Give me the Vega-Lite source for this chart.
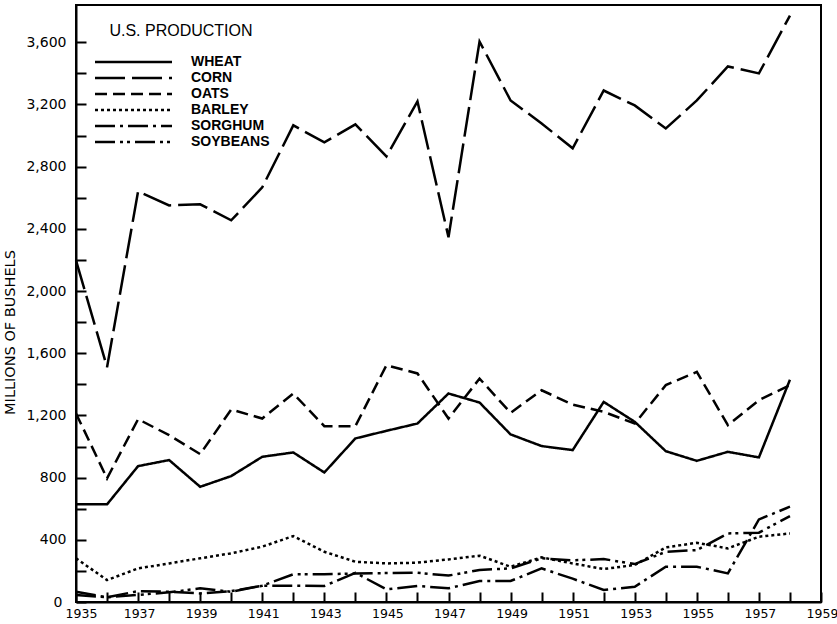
{
  "$schema": "https://vega.github.io/schema/vega-lite/v6.json",
  "width": 745,
  "height": 597,
  "autosize": "none",
  "padding": {"left": 76, "top": 5, "right": 16, "bottom": 22},
  "background": "white",
  "config": {
    "view": {"stroke": "black", "strokeWidth": 2},
    "axis": {
      "domainColor": "black", "domainWidth": 2, "tickColor": "black", "tickWidth": 2,
      "grid": false, "labelColor": "black", "titleColor": "black",
      "labelFont": "DejaVu Sans", "labelFontWeight": "normal", "labelFontSize": 14,
      "titleFont": "DejaVu Sans", "titleFontWeight": "normal", "titleFontSize": 14.5
    },
    "legend": {
      "orient": "none", "legendX": 17, "legendY": 18, "padding": 0,
      "titleFont": "Liberation Sans", "titleFontSize": 16, "titleFontWeight": "normal", "titleColor": "black",
      "titleAnchor": "middle", "titlePadding": 16,
      "labelFont": "Liberation Sans", "labelFontSize": 14, "labelFontWeight": "bold", "labelColor": "black",
      "symbolType": "M-1,0H14.4", "symbolSize": 100, "symbolStrokeWidth": 2.5, "symbolStrokeColor": "black",
      "symbolFillColor": "transparent", "labelOffset": 84, "rowPadding": 2
    }
  },
  "data": {
    "values": [
      {"year":1935,"crop":"WHEAT","value":628},{"year":1936,"crop":"WHEAT","value":628},{"year":1937,"crop":"WHEAT","value":874},{"year":1938,"crop":"WHEAT","value":913},{"year":1939,"crop":"WHEAT","value":741},{"year":1940,"crop":"WHEAT","value":810},{"year":1941,"crop":"WHEAT","value":934},{"year":1942,"crop":"WHEAT","value":962},{"year":1943,"crop":"WHEAT","value":833},{"year":1944,"crop":"WHEAT","value":1052},{"year":1945,"crop":"WHEAT","value":1101},{"year":1946,"crop":"WHEAT","value":1148},{"year":1947,"crop":"WHEAT","value":1341},{"year":1948,"crop":"WHEAT","value":1283},{"year":1949,"crop":"WHEAT","value":1078},{"year":1950,"crop":"WHEAT","value":1003},{"year":1951,"crop":"WHEAT","value":977},{"year":1952,"crop":"WHEAT","value":1287},{"year":1953,"crop":"WHEAT","value":1159},{"year":1954,"crop":"WHEAT","value":970},{"year":1955,"crop":"WHEAT","value":908},{"year":1956,"crop":"WHEAT","value":966},{"year":1957,"crop":"WHEAT","value":930},{"year":1958,"crop":"WHEAT","value":1430},
      {"year":1935,"crop":"CORN","value":2198},{"year":1936,"crop":"CORN","value":1510},{"year":1937,"crop":"CORN","value":2641},{"year":1938,"crop":"CORN","value":2551},{"year":1939,"crop":"CORN","value":2558},{"year":1940,"crop":"CORN","value":2455},{"year":1941,"crop":"CORN","value":2667},{"year":1942,"crop":"CORN","value":3066},{"year":1943,"crop":"CORN","value":2956},{"year":1944,"crop":"CORN","value":3072},{"year":1945,"crop":"CORN","value":2866},{"year":1946,"crop":"CORN","value":3220},{"year":1947,"crop":"CORN","value":2346},{"year":1948,"crop":"CORN","value":3605},{"year":1949,"crop":"CORN","value":3226},{"year":1950,"crop":"CORN","value":3078},{"year":1951,"crop":"CORN","value":2918},{"year":1952,"crop":"CORN","value":3290},{"year":1953,"crop":"CORN","value":3194},{"year":1954,"crop":"CORN","value":3046},{"year":1955,"crop":"CORN","value":3226},{"year":1956,"crop":"CORN","value":3445},{"year":1957,"crop":"CORN","value":3400},{"year":1958,"crop":"CORN","value":3772},
      {"year":1935,"crop":"OATS","value":1213},{"year":1936,"crop":"OATS","value":795},{"year":1937,"crop":"OATS","value":1176},{"year":1938,"crop":"OATS","value":1073},{"year":1939,"crop":"OATS","value":951},{"year":1940,"crop":"OATS","value":1238},{"year":1941,"crop":"OATS","value":1180},{"year":1942,"crop":"OATS","value":1341},{"year":1943,"crop":"OATS","value":1131},{"year":1944,"crop":"OATS","value":1131},{"year":1945,"crop":"OATS","value":1523},{"year":1946,"crop":"OATS","value":1470},{"year":1947,"crop":"OATS","value":1180},{"year":1948,"crop":"OATS","value":1437},{"year":1949,"crop":"OATS","value":1217},{"year":1950,"crop":"OATS","value":1362},{"year":1951,"crop":"OATS","value":1270},{"year":1952,"crop":"OATS","value":1223},{"year":1953,"crop":"OATS","value":1148},{"year":1954,"crop":"OATS","value":1395},{"year":1955,"crop":"OATS","value":1480},{"year":1956,"crop":"OATS","value":1137},{"year":1957,"crop":"OATS","value":1298},{"year":1958,"crop":"OATS","value":1395},
      {"year":1935,"crop":"BARLEY","value":281},{"year":1936,"crop":"BARLEY","value":141},{"year":1937,"crop":"BARLEY","value":216},{"year":1938,"crop":"BARLEY","value":248},{"year":1939,"crop":"BARLEY","value":281},{"year":1940,"crop":"BARLEY","value":313},{"year":1941,"crop":"BARLEY","value":356},{"year":1942,"crop":"BARLEY","value":424},{"year":1943,"crop":"BARLEY","value":323},{"year":1944,"crop":"BARLEY","value":259},{"year":1945,"crop":"BARLEY","value":248},{"year":1946,"crop":"BARLEY","value":253},{"year":1947,"crop":"BARLEY","value":274},{"year":1948,"crop":"BARLEY","value":298},{"year":1949,"crop":"BARLEY","value":227},{"year":1950,"crop":"BARLEY","value":287},{"year":1951,"crop":"BARLEY","value":248},{"year":1952,"crop":"BARLEY","value":212},{"year":1953,"crop":"BARLEY","value":238},{"year":1954,"crop":"BARLEY","value":351},{"year":1955,"crop":"BARLEY","value":381},{"year":1956,"crop":"BARLEY","value":345},{"year":1957,"crop":"BARLEY","value":420},{"year":1958,"crop":"BARLEY","value":441},
      {"year":1935,"crop":"SORGHUM","value":66},{"year":1936,"crop":"SORGHUM","value":30},{"year":1937,"crop":"SORGHUM","value":70},{"year":1938,"crop":"SORGHUM","value":66},{"year":1939,"crop":"SORGHUM","value":55},{"year":1940,"crop":"SORGHUM","value":70},{"year":1941,"crop":"SORGHUM","value":105},{"year":1942,"crop":"SORGHUM","value":105},{"year":1943,"crop":"SORGHUM","value":103},{"year":1944,"crop":"SORGHUM","value":188},{"year":1945,"crop":"SORGHUM","value":81},{"year":1946,"crop":"SORGHUM","value":103},{"year":1947,"crop":"SORGHUM","value":88},{"year":1948,"crop":"SORGHUM","value":135},{"year":1949,"crop":"SORGHUM","value":135},{"year":1950,"crop":"SORGHUM","value":216},{"year":1951,"crop":"SORGHUM","value":150},{"year":1952,"crop":"SORGHUM","value":77},{"year":1953,"crop":"SORGHUM","value":98},{"year":1954,"crop":"SORGHUM","value":227},{"year":1955,"crop":"SORGHUM","value":227},{"year":1956,"crop":"SORGHUM","value":184},{"year":1957,"crop":"SORGHUM","value":531},{"year":1958,"crop":"SORGHUM","value":613},
      {"year":1935,"crop":"SOYBEANS","value":45},{"year":1936,"crop":"SOYBEANS","value":30},{"year":1937,"crop":"SOYBEANS","value":46},{"year":1938,"crop":"SOYBEANS","value":62},{"year":1939,"crop":"SOYBEANS","value":88},{"year":1940,"crop":"SOYBEANS","value":66},{"year":1941,"crop":"SOYBEANS","value":105},{"year":1942,"crop":"SOYBEANS","value":178},{"year":1943,"crop":"SOYBEANS","value":178},{"year":1944,"crop":"SOYBEANS","value":184},{"year":1945,"crop":"SOYBEANS","value":186},{"year":1946,"crop":"SOYBEANS","value":188},{"year":1947,"crop":"SOYBEANS","value":170},{"year":1948,"crop":"SOYBEANS","value":206},{"year":1949,"crop":"SOYBEANS","value":216},{"year":1950,"crop":"SOYBEANS","value":281},{"year":1951,"crop":"SOYBEANS","value":268},{"year":1952,"crop":"SOYBEANS","value":276},{"year":1953,"crop":"SOYBEANS","value":244},{"year":1954,"crop":"SOYBEANS","value":323},{"year":1955,"crop":"SOYBEANS","value":334},{"year":1956,"crop":"SOYBEANS","value":441},{"year":1957,"crop":"SOYBEANS","value":446},{"year":1958,"crop":"SOYBEANS","value":553}
    ]
  },
  "mark": {"type": "line", "color": "black", "strokeWidth": 2.5, "strokeCap": "butt"},
  "encoding": {
    "x": {
      "field": "year", "type": "quantitative",
      "scale": {"domain": [1935, 1959], "nice": false, "zero": false},
      "axis": {
        "title": null, "tickSize": -10, "labelPadding": 15, "labelFontSize": 12.5,
        "labelOffset": {"condition": {"test": "datum.value == 1935", "value": 5}, "value": 1},
        "values": [1935,1936,1937,1938,1939,1940,1941,1942,1943,1944,1945,1946,1947,1948,1949,1950,1951,1952,1953,1954,1955,1956,1957,1958,1959],
        "labelExpr": "datum.value % 2 == 1 ? format(datum.value, 'd') : ''",
        "labelFlush": false, "labelOverlap": false
      }
    },
    "y": {
      "field": "value", "type": "quantitative",
      "scale": {"domain": [0, 3840], "nice": false},
      "axis": {
        "title": "MILLIONS OF BUSHELS", "tickSize": -10,
        "labelPadding": {"condition": {"test": "datum.value == 0", "value": 24}, "value": 20},
        "values": [0,200,400,600,800,1000,1200,1400,1600,1800,2000,2200,2400,2600,2800,3000,3200,3400,3600],
        "labelExpr": "datum.value % 400 == 0 ? format(datum.value, ',') : ''",
        "labelOverlap": false, "labelFlush": false,
        "titleX": -59, "titleY": 327
      }
    },
    "strokeDash": {
      "field": "crop", "type": "nominal",
      "scale": {
        "domain": ["WHEAT", "CORN", "OATS", "BARLEY", "SORGHUM", "SOYBEANS"],
        "range": [[1, 0], [30, 7], [12, 6], [3, 3], [20, 5, 3, 5], [20, 5, 3, 4, 3, 5]]
      },
      "legend": {"title": "U.S. PRODUCTION"}
    }
  }
}
